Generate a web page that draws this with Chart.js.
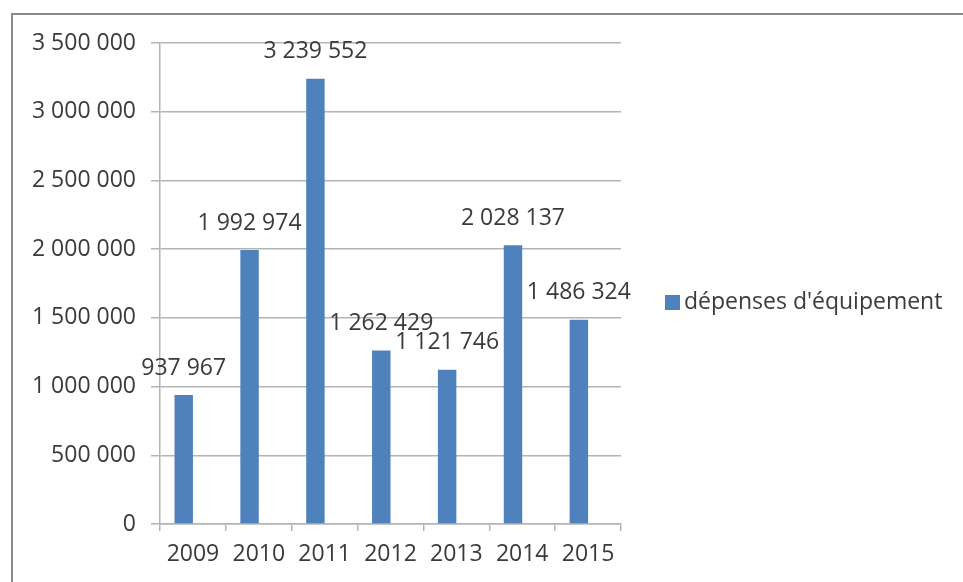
<!DOCTYPE html>
<html>
<head>
<meta charset="utf-8">
<script src="https://cdn.jsdelivr.net/npm/chart.js@4"></script>
<style>
  body { margin: 0; background: #fff; }
  canvas { display: block; }
</style>
</head>
<body>
<canvas id="chart" width="963" height="582"></canvas>
<script>
// data
const years = ['2009', '2010', '2011', '2012', '2013', '2014', '2015'];
const depenses = [937967, 1992974, 3239552, 1262429, 1121746, 2028137, 1486324];
const seriesName = "dépenses d'équipement";
const yMax = 3500000;
const yStep = 500000;

const barColor = '#4f81bd';
const gridColor = '#b4b4b4';
const textColor = '#3a3a3a';
const fontFamily = "'Open Sans', sans-serif";
const fontSize = 23;

// numbers like "3 239 552"
function fmt(v) {
  return String(Math.round(v)).replace(/\B(?=(\d{3})+(?!\d))/g, ' ');
}

// frame, value labels and legend
const extras = {
  id: 'extras',
  afterDatasetsDraw(chart) {
    const ctx = chart.ctx;
    const meta = chart.getDatasetMeta(0);
    ctx.save();
    ctx.font = fontSize + 'px ' + fontFamily;
    ctx.fillStyle = textColor;
    ctx.textAlign = 'center';
    ctx.textBaseline = 'middle';
    meta.data.forEach((bar, i) => {
      ctx.fillText(fmt(depenses[i]), bar.x, bar.y - 27);
    });

    // legend
    ctx.fillStyle = barColor;
    ctx.fillRect(665, 295, 15, 15);
    ctx.fillStyle = textColor;
    ctx.textAlign = 'left';
    ctx.fillText(seriesName, 684, 302);

    // outer frame
    ctx.strokeStyle = '#8a8a8a';
    ctx.lineWidth = 2;
    ctx.beginPath();
    ctx.moveTo(12, 582);
    ctx.lineTo(12, 14);
    ctx.lineTo(963, 14);
    ctx.stroke();
    ctx.restore();
  }
};

new Chart(document.getElementById('chart'), {
  type: 'bar',
  data: {
    labels: years,
    datasets: [
      {
        label: seriesName,
        data: depenses,
        backgroundColor: barColor,
        barPercentage: 1,
        categoryPercentage: 0.56
      },
      {
        // empty second series, keeps the bar left of centre like the original
        label: '',
        data: [],
        backgroundColor: barColor,
        barPercentage: 1,
        categoryPercentage: 0.56
      }
    ]
  },
  options: {
    responsive: false,
    animation: false,
    layout: { padding: { top: 43, right: 342, bottom: 0, left: 0 } },
    plugins: {
      legend: { display: false },
      tooltip: { enabled: false }
    },
    scales: {
      x: {
        offset: true,
        grid: {
          offset: true,
          drawOnChartArea: false,
          drawTicks: true,
          tickLength: 7,
          color: gridColor,
          lineWidth: 1.5
        },
        border: { color: gridColor, width: 1.5 },
        ticks: {
          color: textColor,
          font: { family: fontFamily, size: fontSize },
          padding: 10,
          maxRotation: 0
        },
        afterFit(scale) { scale.height = 58; }
      },
      y: {
        min: 0,
        max: yMax,
        grid: {
          color: gridColor,
          lineWidth: 1.5,
          tickLength: 9
        },
        border: { color: gridColor, width: 1.5 },
        ticks: {
          stepSize: yStep,
          color: textColor,
          font: { family: fontFamily, size: fontSize },
          padding: 15,
          callback: v => fmt(v)
        },
        afterFit(scale) { scale.width = 160; }
      }
    }
  },
  plugins: [extras]
});
</script>
</body>
</html>
